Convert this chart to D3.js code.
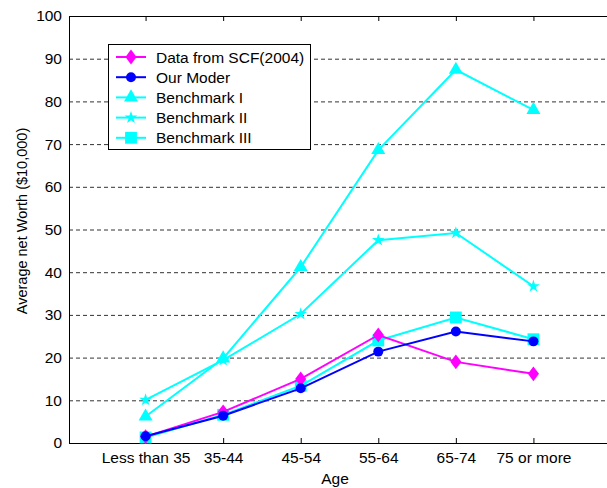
<!DOCTYPE html>
<html>
<head>
<meta charset="utf-8">
<script src="https://cdn.jsdelivr.net/npm/d3@7"></script>
<style>
 body{margin:0;background:#fff;}
 text{font-family:"Liberation Sans",Arial,sans-serif;}
</style>
</head>
<body>
<svg id="chart" width="607" height="488"></svg>
<script>
// categories and series
var ageGroups=["Less than 35","35-44","45-54","55-64","65-74","75 or more"];
var yTicks=[0,10,20,30,40,50,60,70,80,90,100];
var scf=[1.5,7.3,15,25.3,19,16.2];
var ourModel=[1.6,6.4,12.8,21.4,26.1,23.8];
var bench1=[6.2,19.8,41.2,68.6,87.4,78];
var bench2=[10.1,19.4,30.2,47.5,49.2,36.7];
var bench3=[1.3,6.6,13.4,24,29.4,24.3];
var seriesNames=["Data from SCF(2004)","Our Moder","Benchmark I","Benchmark II","Benchmark III"];
var seriesColors=["#ff00ff","#0000ff","#00ffff","#00ffff","#00ffff"];
var seriesMarkers=["diamond","circle","triangle","star","square"];
var seriesData=[scf,ourModel,bench1,bench2,bench3];

(function(){
var svg=d3.select("#chart");
var pl=69,pt=16,pb=443,pr=611;
var x=d3.scaleLinear().domain([0,7]).range([pl-1,pr]);
var y=d3.scaleLinear().domain([0,100]).range([pb,pt]);

// grid
svg.append("g").selectAll("line").data(yTicks.filter(function(d){return d>0&&d<100;})).enter().append("line")
 .attr("x1",pl).attr("x2",607).attr("y1",function(d){return y(d)+0.5;}).attr("y2",function(d){return y(d)+0.5;})
 .attr("stroke","#333").attr("stroke-width",1).attr("stroke-dasharray","4,3");

// axes
var gy=svg.append("g").attr("transform","translate("+pl+",0)").call(d3.axisLeft(y).tickValues(yTicks).tickSize(0).tickPadding(7));
gy.select(".domain").remove();
gy.selectAll("text").attr("font-size",15.5).attr("fill","#000");

var xAxis=d3.axisBottom(x).tickValues([1,2,3,4,5,6]).tickFormat(function(d){return ageGroups[d-1];}).tickSize(-5).tickPadding(9);
var gx=svg.append("g").attr("transform","translate(0,"+pb+")").call(xAxis);
gx.select(".domain").remove();
gx.selectAll("line").attr("stroke","#000");
gx.selectAll("text").attr("font-size",15.5).attr("fill","#000");

var gt=svg.append("g").attr("transform","translate(0,"+pt+")").call(d3.axisTop(x).tickValues([1,2,3,4,5,6]).tickSize(-5).tickFormat(""));
gt.select(".domain").remove();
gt.selectAll("line").attr("stroke","#000");

svg.append("rect").attr("x",pl+0.5).attr("y",pt+0.5).attr("width",pr-pl).attr("height",pb-pt)
 .attr("fill","none").attr("stroke","#000").attr("stroke-width",1);

// labels
svg.append("text").attr("x",335).attr("y",484).attr("text-anchor","middle").attr("font-size",15.5).text("Age");
svg.append("text").attr("transform","translate(27,221) rotate(-90)").attr("text-anchor","middle").attr("font-size",14.5).text("Average net Worth ($10,000)");

// tall, narrow diamond like the original marker
var tallDiamond={draw:function(ctx,size){var h=Math.sqrt(size)*0.78,w=h*0.75;ctx.moveTo(0,-h);ctx.lineTo(w,0);ctx.lineTo(0,h);ctx.lineTo(-w,0);ctx.closePath();}};
function markerPath(type){
 var sym={diamond:tallDiamond,circle:d3.symbolCircle,triangle:d3.symbolTriangle,star:d3.symbolStar,square:d3.symbolSquare}[type];
 var size={diamond:90,circle:78,triangle:85,star:50,square:140}[type];
 return d3.symbol().type(sym).size(size)();
}

var line=d3.line().x(function(d,i){return x(i+1);}).y(function(d){return y(d);});
[4,3,2,0,1].forEach(function(k){
 var g=svg.append("g");
 g.append("path").datum(seriesData[k]).attr("d",line).attr("fill","none").attr("stroke",seriesColors[k]).attr("stroke-width",2);
 g.selectAll("path.m").data(seriesData[k]).enter().append("path").attr("class","m")
  .attr("transform",function(d,i){return "translate("+x(i+1)+","+y(d)+")";})
  .attr("d",markerPath(seriesMarkers[k])).attr("fill",seriesColors[k]);
});

// legend
var lg=svg.append("g");
lg.append("rect").attr("x",108.5).attr("y",44.5).attr("width",202).attr("height",105).attr("fill","#fff").attr("stroke","#000");
var rows=lg.selectAll("g").data(seriesNames).enter().append("g")
 .attr("transform",function(d,i){return "translate(0,"+(57+i*20.2)+")";});
rows.append("line").attr("x1",116).attr("x2",146).attr("stroke",function(d,i){return seriesColors[i];}).attr("stroke-width",2);
rows.append("path").attr("transform","translate(131,0)").attr("d",function(d,i){return markerPath(seriesMarkers[i]);}).attr("fill",function(d,i){return seriesColors[i];});
rows.append("text").attr("x",156).attr("y",5.5).attr("font-size",15.5).text(function(d){return d;});
})();
</script>
</body>
</html>
